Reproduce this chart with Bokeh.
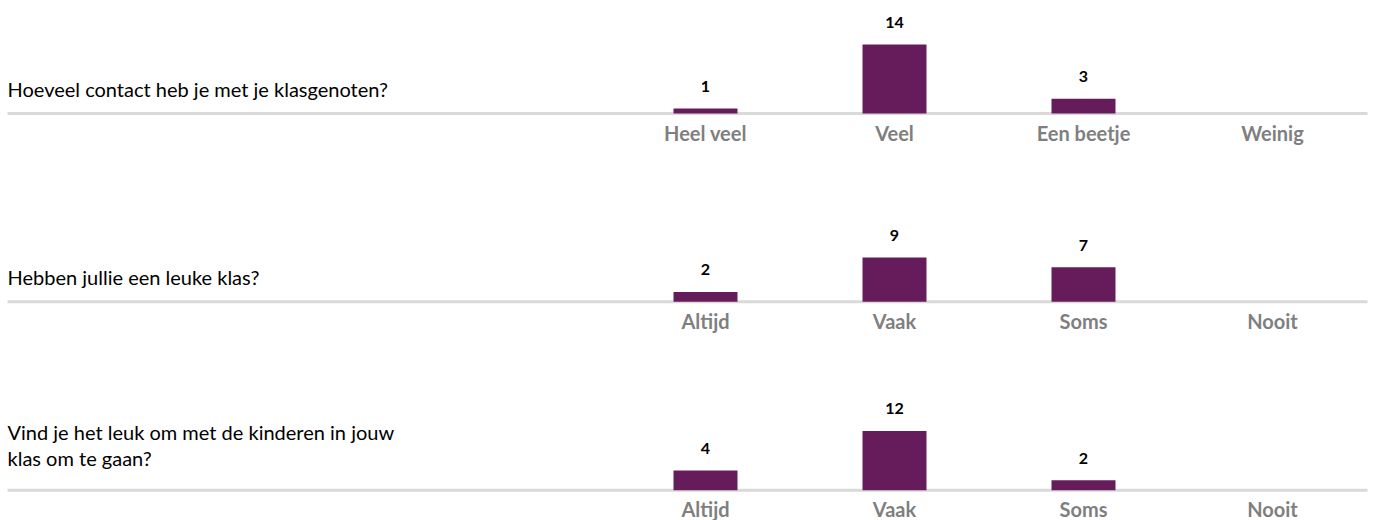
from bokeh.plotting import figure
from bokeh.models import ColumnDataSource, Range1d
from bokeh.core.properties import value
from bokeh.embed import file_html
from bokeh.resources import INLINE

# ---- data ----
questions = [
    "Hoeveel contact heb je met je klasgenoten?",
    "Hebben jullie een leuke klas?",
    "Vind je het leuk om met de kinderen in jouw\nklas om te gaan?",
]
categories_q1 = ["Heel veel", "Veel", "Een beetje", "Weinig"]
categories_q2 = ["Altijd", "Vaak", "Soms", "Nooit"]
categories_q3 = ["Altijd", "Vaak", "Soms", "Nooit"]
values_q1 = [1, 14, 3, 0]
values_q2 = [2, 9, 7, 0]
values_q3 = [4, 12, 2, 0]

categories = [categories_q1, categories_q2, categories_q3]
values = [values_q1, values_q2, values_q3]

# ---- layout / style ----
W, H = 1373, 520
col_px = 189.0          # pixels per column
first_center = 705.0    # pixel of first column centre
unit_px = 4.93          # pixels per count
row_gap = 38.2          # rows offset in count units
top_base_px = 113.0

x_start = -first_center / col_px
x_end = (W - first_center) / col_px
y_end = top_base_px / unit_px
y_start = y_end - H / unit_px

BAR = "#661c5a"
FONT = value("Lato")

p = figure(width=W, height=H, output_backend="svg", toolbar_location=None,
           x_range=Range1d(x_start, x_end), y_range=Range1d(y_start, y_end),
           x_axis_type=None, y_axis_type=None, min_border=0,
           background_fill_color="white", border_fill_color="white")
p.outline_line_color = None
p.grid.visible = False

bx, btop, bbot = [], [], []
lx, ly, ltxt = [], [], []
cx, cy, ctxt = [], [], []
qx, qy, qtxt, qoff = [], [], [], []
sx0, sx1, sy = [], [], []
for r, (cats, vals) in enumerate(zip(categories, values)):
    base = -r * row_gap
    for i, (c, v) in enumerate(zip(cats, vals)):
        cx.append(i); cy.append(base); ctxt.append(c)
        if v > 0:
            bx.append(i); bbot.append(base); btop.append(base + v)
            lx.append(i); ly.append(base + v); ltxt.append(str(v))
    qx.append(x_start); qy.append(base); qtxt.append(questions[r])
    qoff.append(-13 - 7 * questions[r].count("\n"))
    sx0.append(x_start + 7 / col_px); sx1.append(x_end - 6 / col_px); sy.append(base)

# baselines
p.segment(x0=sx0, x1=sx1, y0=sy, y1=sy, line_color="#d9d9d9", line_width=3)

# bars
p.vbar(x=bx, top=btop, bottom=bbot, width=64 / col_px,
       fill_color=BAR, line_color=None)

# value labels
p.text(x=lx, y=ly, text=ltxt, text_align="center", text_baseline="alphabetic",
       y_offset=-22, text_font=FONT, text_font_style="bold",
       text_font_size="16px", text_color="#000000")

# category labels
p.text(x=cx, y=cy, text=ctxt, text_align="center", text_baseline="middle",
       y_offset=19, text_font=FONT, text_font_style="bold",
       text_font_size="20px", text_color="#7f7f7f")

# questions
qsrc = ColumnDataSource(dict(x=qx, y=qy, text=qtxt, yo=qoff))
p.text(x="x", y="y", text="text", y_offset="yo", x_offset=7, source=qsrc,
       text_align="left", text_baseline="bottom", text_font=FONT,
       text_font_size="20px", text_color="#000000", text_line_height=1.1)

open("out.html", "w").write(file_html(p, INLINE))
